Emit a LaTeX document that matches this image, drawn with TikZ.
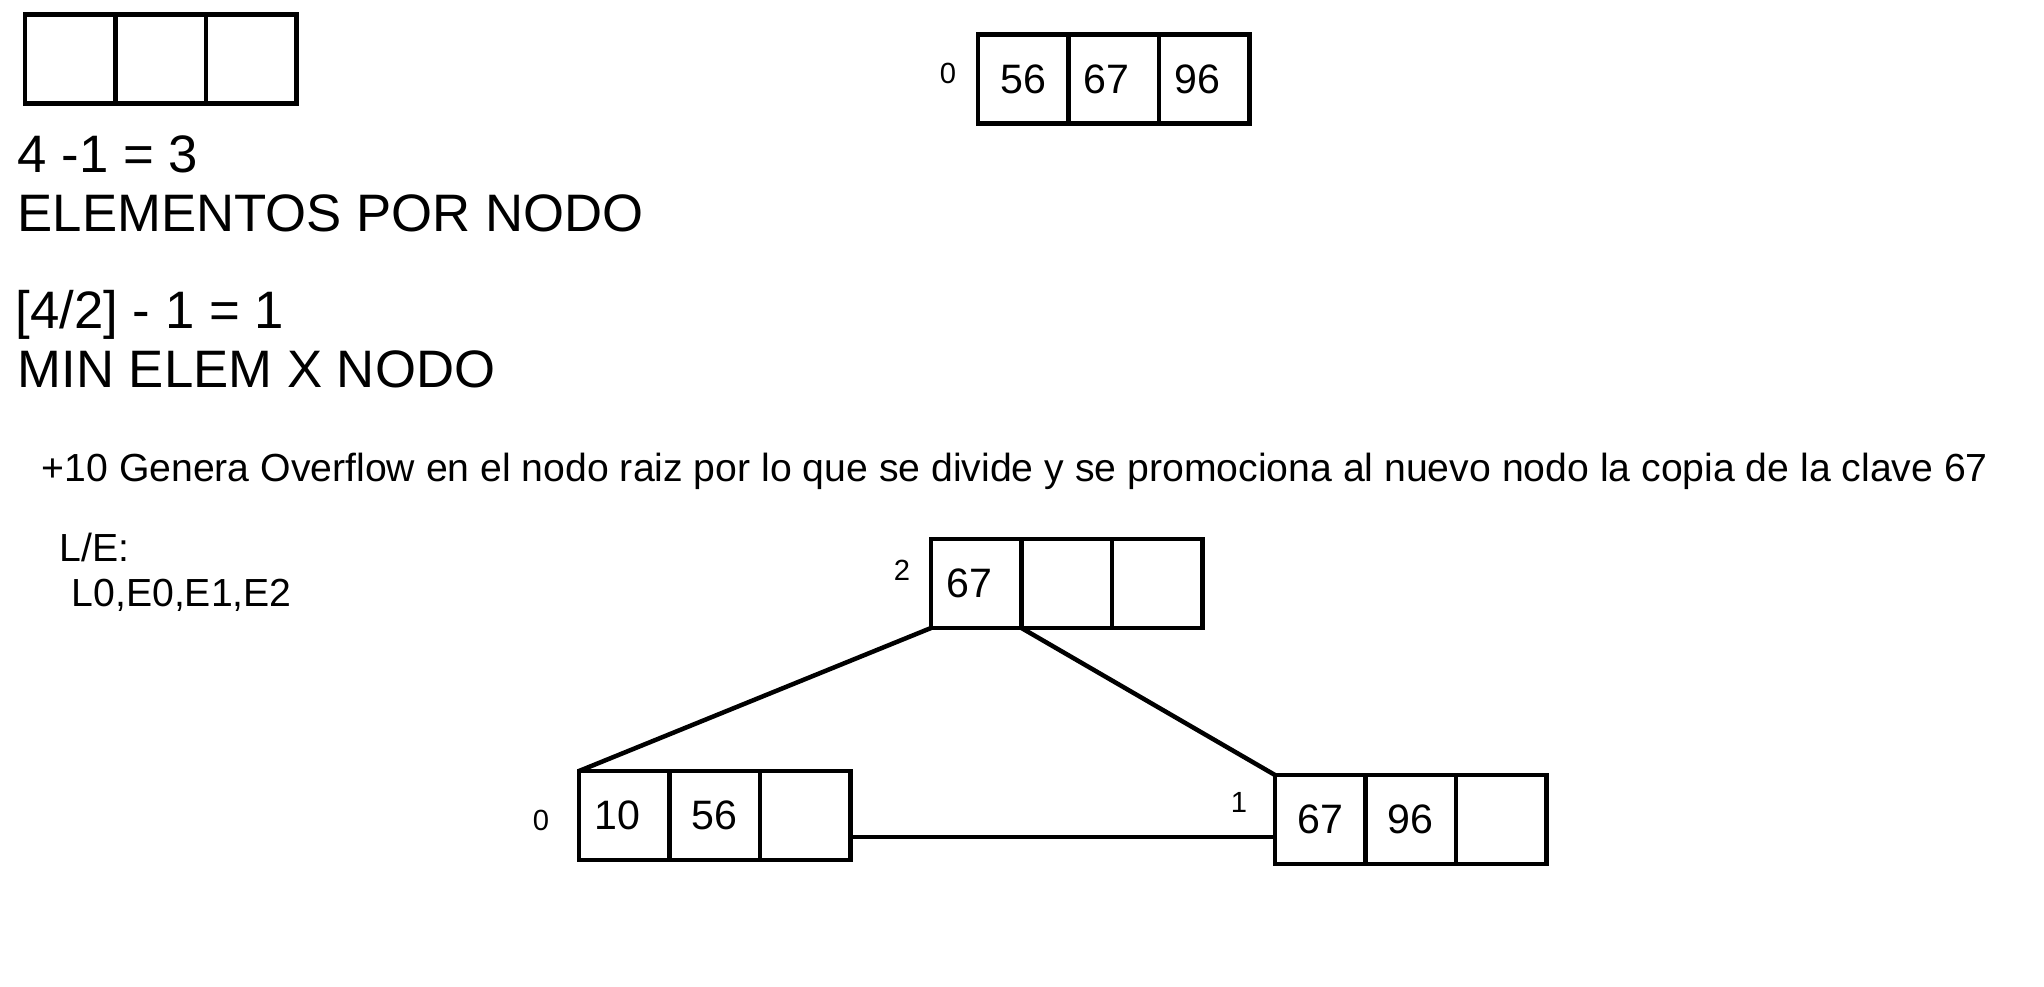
\documentclass[tikz,border=0pt]{standalone}
\usepackage{fontspec}
\setmainfont{Liberation Sans}
\usetikzlibrary{positioning}

\tikzset{
  celda/.style={draw, line width=0.045cm, inner sep=0pt, outer sep=0pt, minimum width=0.905cm, minimum height=0.89cm, font=\fontsize{11.7}{13}\selectfont},
  izq/.style={text width=0.6cm, align=left},
  texto/.style={anchor=base west, inner sep=0pt, font=\fontsize{15}{17}\selectfont},
  nota/.style={anchor=base west, inner sep=0pt, font=\fontsize{11.15}{13}\selectfont},
  indice/.style={inner sep=0pt, font=\fontsize{8.3}{10}\selectfont},
  enlace/.style={line width=0.045cm}
}

\begin{document}
\begin{tikzpicture}
\useasboundingbox (0,0) rectangle (20.44,-9.86);

% ===== Nodo vacio (orden 4) =====
\node[celda] (vacio1) at (0.7025,-0.59) {};
\node[celda, right=0cm of vacio1] (vacio2) {};
\node[celda, right=0cm of vacio2] (vacio3) {};

% Formulas
\node[texto] (maxcalc) at (0.17,-1.72) {4 -1 = 3};
\node[texto] (maxtxt) at (0.17,-2.31) {ELEMENTOS POR NODO};
\node[texto] (mincalc) at (0.15,-3.28) {[4/2] - 1 = 1};
\node[texto] (mintxt) at (0.17,-3.87) {MIN ELEM X NODO};

% ===== Nodo 0 antes del overflow =====
\node[indice] (idxprev) at (9.48,-0.73) {0};
\node[celda] (prev1) at (10.2325,-0.79) {56};
\node[celda, izq, right=0cm of prev1] (prev2) {67};
\node[celda, izq, right=0cm of prev2] (prev3) {96};

% Explicacion
\node[nota] (explica) at (0.41,-4.81) {+10 Genera Overflow en el nodo raiz por lo que se divide y se promociona al nuevo nodo la copia de la clave 67};
\node[nota] (lecesc) at (0.59,-5.61) {L/E:};
\node[nota] (ops) at (0.71,-6.06) {L0,E0,E1,E2};

% ===== Arbol despues de dividir =====
% raiz
\node[indice] (idxraiz) at (9.02,-5.70) {2};
\node[celda, izq] (raiz1) at (9.7625,-5.835) {67};
\node[celda, right=0cm of raiz1] (raiz2) {};
\node[celda, right=0cm of raiz2] (raiz3) {};

% hoja 0
\node[indice] (idxhojaA) at (5.41,-8.20) {0};
\node[celda, izq] (hojaA1) at (6.2425,-8.155) {10};
\node[celda, right=0cm of hojaA1] (hojaA2) {56};
\node[celda, right=0cm of hojaA2] (hojaA3) {};

% hoja 1
\node[indice] (idxhojaB) at (12.39,-8.02) {1};
\node[celda] (hojaB1) at (13.2025,-8.195) {67};
\node[celda, right=0cm of hojaB1] (hojaB2) {96};
\node[celda, right=0cm of hojaB2] (hojaB3) {};

% enlaces
\draw[enlace] (raiz1.south west) -- (hojaA1.north west);
\draw[enlace] (raiz1.south east) -- (hojaB1.north west);
\draw[enlace] ([yshift=-0.215cm]hojaA3.east) -- ([yshift=-0.215cm]hojaA3.east -| hojaB1.west);

\end{tikzpicture}
\end{document}
